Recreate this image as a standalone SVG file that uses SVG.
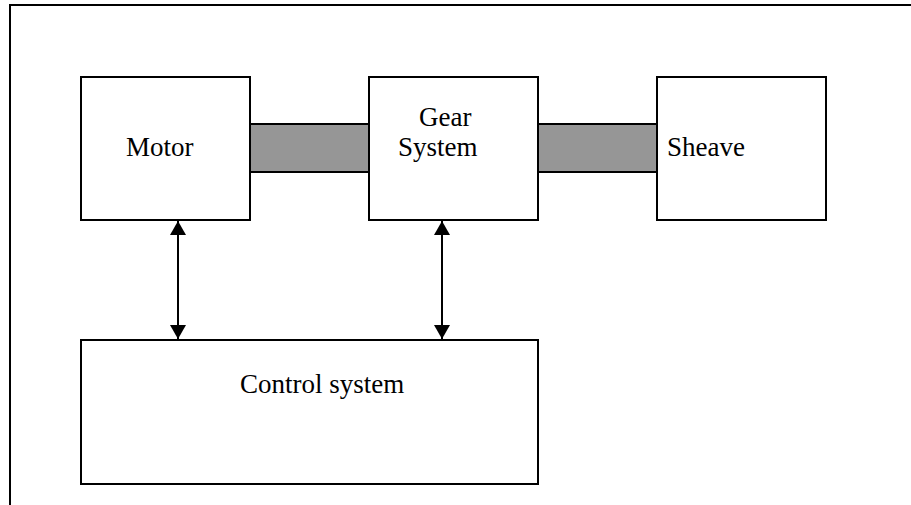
<svg xmlns="http://www.w3.org/2000/svg" width="911" height="505" viewBox="0 0 911 505">
  <style>
    .box { fill: #ffffff; stroke: #000000; stroke-width: 2; }
    .shaft { fill: #969696; stroke: #000000; stroke-width: 2; }
    .frame { fill: none; stroke: #000000; stroke-width: 2; }
    .label { font-family: "Liberation Serif", "Times New Roman", serif; font-size: 27px; fill: #000000; }
    .link { stroke: #000000; stroke-width: 2; fill: none; marker-start: url(#head); marker-end: url(#head); }
  </style>
  <defs>
    <marker id="head" viewBox="0 0 14 16" refX="14" refY="8" markerWidth="14" markerHeight="16" markerUnits="userSpaceOnUse" orient="auto-start-reverse">
      <path d="M0,0 L14,8 L0,16 Z" fill="#000000"/>
    </marker>
  </defs>

  <rect width="911" height="505" fill="#ffffff"/>

  <!-- page frame: top and left rules -->
  <path class="frame" d="M10,505 V5 H911"/>

  <!-- shafts between the units -->
  <g id="shaft-motor-gear">
    <rect class="shaft" x="250" y="124" width="119" height="48"/>
  </g>
  <g id="shaft-gear-sheave">
    <rect class="shaft" x="538" y="124" width="119" height="48"/>
  </g>

  <g id="motor">
    <rect class="box" x="81" y="77" width="169" height="143"/>
    <text class="label" x="126" y="156">Motor</text>
  </g>

  <g id="gear-system">
    <rect class="box" x="369" y="77" width="169" height="143"/>
    <text class="label" x="419" y="126">Gear</text>
    <text class="label" x="398" y="156">System</text>
  </g>

  <g id="sheave">
    <rect class="box" x="657" y="77" width="169" height="143"/>
    <text class="label" x="667" y="156">Sheave</text>
  </g>

  <g id="control-system">
    <rect class="box" x="81" y="340" width="457" height="144"/>
    <text class="label" x="240" y="393">Control system</text>
  </g>

  <!-- two-way signal links -->
  <g id="connectors">
    <line class="link" x1="178" y1="221" x2="178" y2="339"/>
    <line class="link" x1="442" y1="221" x2="442" y2="339"/>
  </g>
</svg>
